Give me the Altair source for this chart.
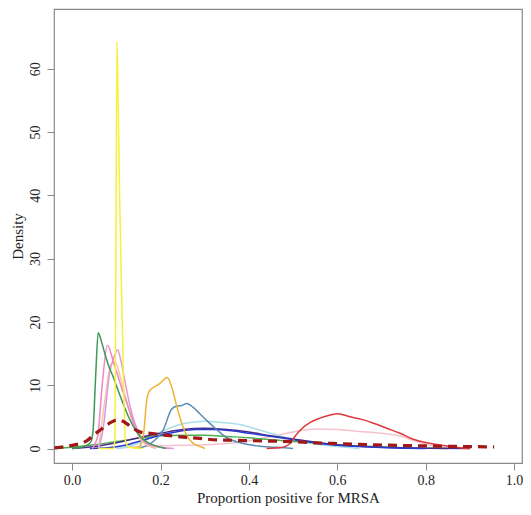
import altair as alt
import pandas as pd

# ---- data (x = proportion, y = density) ----
yellow_x = [0.06, 0.094, 0.097, 0.099, 0.1015, 0.104, 0.108, 0.114, 0.118, 0.121, 0.13, 0.16]
yellow_y = [0, 0, 2, 30, 64.3, 55, 38, 18, 6, 1, 0.2, 0]

green_x = [0.0, 0.03, 0.042, 0.047, 0.053, 0.059, 0.066, 0.074, 0.083, 0.093, 0.112, 0.131, 0.154, 0.175, 0.195, 0.212]
green_y = [0, 0.4, 1.0, 2.5, 11, 18.3, 17, 15, 13, 11.3, 7.7, 4.5, 1.9, 0.8, 0.3, 0]

hotpink_x = [0.045, 0.058, 0.068, 0.08, 0.093, 0.11, 0.13, 0.145, 0.165, 0.19, 0.22]
hotpink_y = [0, 2, 10, 16.3, 13.8, 10, 6, 3, 1, 0.3, 0]

violet_x = [0.06, 0.07, 0.085, 0.095, 0.103, 0.11, 0.12, 0.13, 0.142, 0.155, 0.17, 0.2, 0.23]
violet_y = [0, 3, 12, 14.5, 15.6, 14, 10.5, 7, 4, 2, 0.7, 0.2, 0]

peach_x = [0.06, 0.075, 0.088, 0.098, 0.11, 0.125, 0.14, 0.16, 0.19]
peach_y = [0, 8, 13.3, 13.6, 11, 7, 3.5, 1, 0]

orange_x = [0.14, 0.152, 0.161, 0.169, 0.176, 0.188, 0.199, 0.215, 0.225, 0.237, 0.248, 0.259, 0.274, 0.29, 0.30]
orange_y = [0, 0.3, 1.9, 7.7, 9.2, 9.8, 10.3, 11.2, 9.8, 6.6, 4.0, 2.1, 0.8, 0.3, 0]

steel_x = [0.15, 0.17, 0.19, 0.206, 0.225, 0.237, 0.248, 0.259, 0.274, 0.289, 0.308, 0.327, 0.35, 0.38, 0.42, 0.46, 0.5]
steel_y = [0, 0.5, 1.5, 2.9, 6.2, 6.7, 6.8, 7.1, 6.5, 5.5, 4.2, 3.0, 1.7, 0.9, 0.4, 0.2, 0]

lightblue_x = [0.1, 0.15, 0.2, 0.25, 0.3, 0.34, 0.38, 0.42, 0.46, 0.5, 0.55, 0.6, 0.65]
lightblue_y = [0, 0.8, 2.6, 3.9, 4.3, 4.1, 3.8, 3.0, 2.2, 1.4, 0.7, 0.3, 0]

blue_x = [0.04, 0.08, 0.12, 0.16, 0.2, 0.24, 0.28, 0.32, 0.36, 0.4, 0.44, 0.48, 0.52, 0.56, 0.6, 0.65, 0.7, 0.75, 0.8]
blue_y = [0, 0.1, 0.5, 1.3, 2.1, 2.7, 3.0, 3.0, 2.8, 2.4, 2.0, 1.6, 1.2, 0.8, 0.5, 0.3, 0.15, 0.05, 0]

purple_x = [0.0, 0.05, 0.1, 0.15, 0.2, 0.25, 0.3, 0.35, 0.4, 0.45, 0.5, 0.55, 0.6, 0.65, 0.7, 0.8, 0.9]
purple_y = [0, 0.3, 0.9, 1.7, 2.4, 3.0, 3.2, 3.0, 2.6, 2.0, 1.5, 1.0, 0.6, 0.35, 0.2, 0.05, 0]

green2_x = [-0.04, 0.0, 0.05, 0.1, 0.15, 0.2, 0.25, 0.3, 0.35, 0.4, 0.45, 0.5, 0.55, 0.6, 0.65, 0.7, 0.75, 0.8, 0.85]
green2_y = [0, 0.2, 0.6, 1.1, 1.6, 2.0, 2.1, 2.1, 1.9, 1.7, 1.4, 1.1, 0.9, 0.6, 0.4, 0.25, 0.12, 0.05, 0]

lightpink_x = [0.1, 0.15, 0.2, 0.25, 0.3, 0.35, 0.4, 0.45, 0.5, 0.55, 0.6, 0.65, 0.7, 0.74, 0.78, 0.81, 0.85]
lightpink_y = [0, 0.3, 0.45, 0.5, 0.6, 0.8, 1.2, 1.9, 2.6, 3.1, 3.0, 2.7, 2.4, 2.0, 1.1, 0.5, 0]

red_x = [0.44, 0.47, 0.485, 0.493, 0.504, 0.516, 0.538, 0.561, 0.58, 0.602, 0.629, 0.655, 0.682, 0.712, 0.742, 0.772, 0.802, 0.833, 0.863, 0.9]
red_y = [0, 0.1, 0.4, 0.8, 1.9, 2.9, 4.1, 4.8, 5.2, 5.5, 5.0, 4.6, 4.0, 3.2, 2.4, 1.45, 0.9, 0.55, 0.25, 0]

pooled_x = [-0.04, 0.0, 0.033, 0.048, 0.065, 0.078, 0.09, 0.101, 0.115, 0.13, 0.145, 0.16, 0.176, 0.2, 0.252, 0.289, 0.327, 0.365, 0.43, 0.493, 0.55, 0.591, 0.65, 0.704, 0.8, 0.9, 0.955]
pooled_y = [0.1, 0.5, 1.2, 2.1, 3.0, 3.7, 4.2, 4.5, 4.3, 3.6, 2.9, 2.5, 2.4, 2.2, 1.8, 1.6, 1.35, 1.3, 1.2, 1.1, 0.9, 0.8, 0.65, 0.55, 0.4, 0.3, 0.25]

series_names = ["lightpink", "lightblue", "green2", "purple", "blue", "steel", "red",
                "orange", "peach", "violet", "hotpink", "green", "yellow"]
series_colors = ["#f4c4cc", "#a9dfe8", "#4caf50", "#4b2a8a", "#2a3acc", "#5b8db3", "#e0383a",
                 "#f0b232", "#f2c8a2", "#dd99dd", "#f287c4", "#3d9a55", "#f7f03c"]
series_data = {
    "lightpink": (lightpink_x, lightpink_y), "lightblue": (lightblue_x, lightblue_y),
    "green2": (green2_x, green2_y), "purple": (purple_x, purple_y), "blue": (blue_x, blue_y),
    "steel": (steel_x, steel_y), "red": (red_x, red_y), "orange": (orange_x, orange_y),
    "peach": (peach_x, peach_y), "violet": (violet_x, violet_y), "hotpink": (hotpink_x, hotpink_y),
    "green": (green_x, green_y), "yellow": (yellow_x, yellow_y),
}

x_ticks = [0.0, 0.2, 0.4, 0.6, 0.8, 1.0]
y_ticks = [0, 10, 20, 30, 40, 50, 60]

rows = []
for i, name in enumerate(series_names):
    xs, ys = series_data[name]
    for j, (a, b) in enumerate(zip(xs, ys)):
        rows.append({"series": name, "x": a, "y": b, "ord": i, "j": j})
df = pd.DataFrame(rows)
pooled = pd.DataFrame({"x": pooled_x, "y": pooled_y, "j": list(range(len(pooled_x)))})

xscale = alt.Scale(domain=[-0.041, 1.018], nice=False, zero=False)
yscale = alt.Scale(domain=[-2.29, 69.43], nice=False, zero=False)

xenc = alt.X("x:Q", scale=xscale,
             axis=alt.Axis(values=x_ticks, format=".1f", title="Proportion positive for MRSA",
                           grid=False, domain=False, tickColor="#888", tickSize=7,
                           labelPadding=3, titleY=42, titleBaseline="bottom"))
yenc = alt.Y("y:Q", scale=yscale,
             axis=alt.Axis(values=y_ticks, title="Density", grid=False, domain=False,
                           tickColor="#888", tickSize=7, labelAngle=-90, labelAlign="center",
                           labelBaseline="bottom", labelPadding=5, titlePadding=3))

lines = alt.Chart(df).mark_line(strokeWidth=1.5, interpolate="monotone").encode(
    x=xenc, y=yenc,
    color=alt.Color("series:N", scale=alt.Scale(domain=series_names, range=series_colors), legend=None),
    detail="series:N",
    order="j:Q",
)

dashed = alt.Chart(pooled).mark_line(strokeWidth=3.2, strokeDash=[9, 6], color="#a01818",
                                     interpolate="monotone").encode(
    x=alt.X("x:Q", scale=xscale), y=alt.Y("y:Q", scale=yscale), order="j:Q")

chart = alt.layer(lines, dashed).properties(
    width=468, height=454,
    autosize=alt.AutoSizeParams(type="none"),
    padding={"left": 46, "top": 1, "right": 1, "bottom": 43},
).configure_view(stroke="#8a8a8a", strokeWidth=1.2).configure_axis(
    labelFont="Liberation Serif", titleFont="Liberation Serif",
    labelFontSize=14, titleFontSize=15, labelColor="#222", titleColor="#222",
    titleFontWeight="normal",
)

chart.save("out.html", embed_options={"renderer": "svg", "actions": False})
